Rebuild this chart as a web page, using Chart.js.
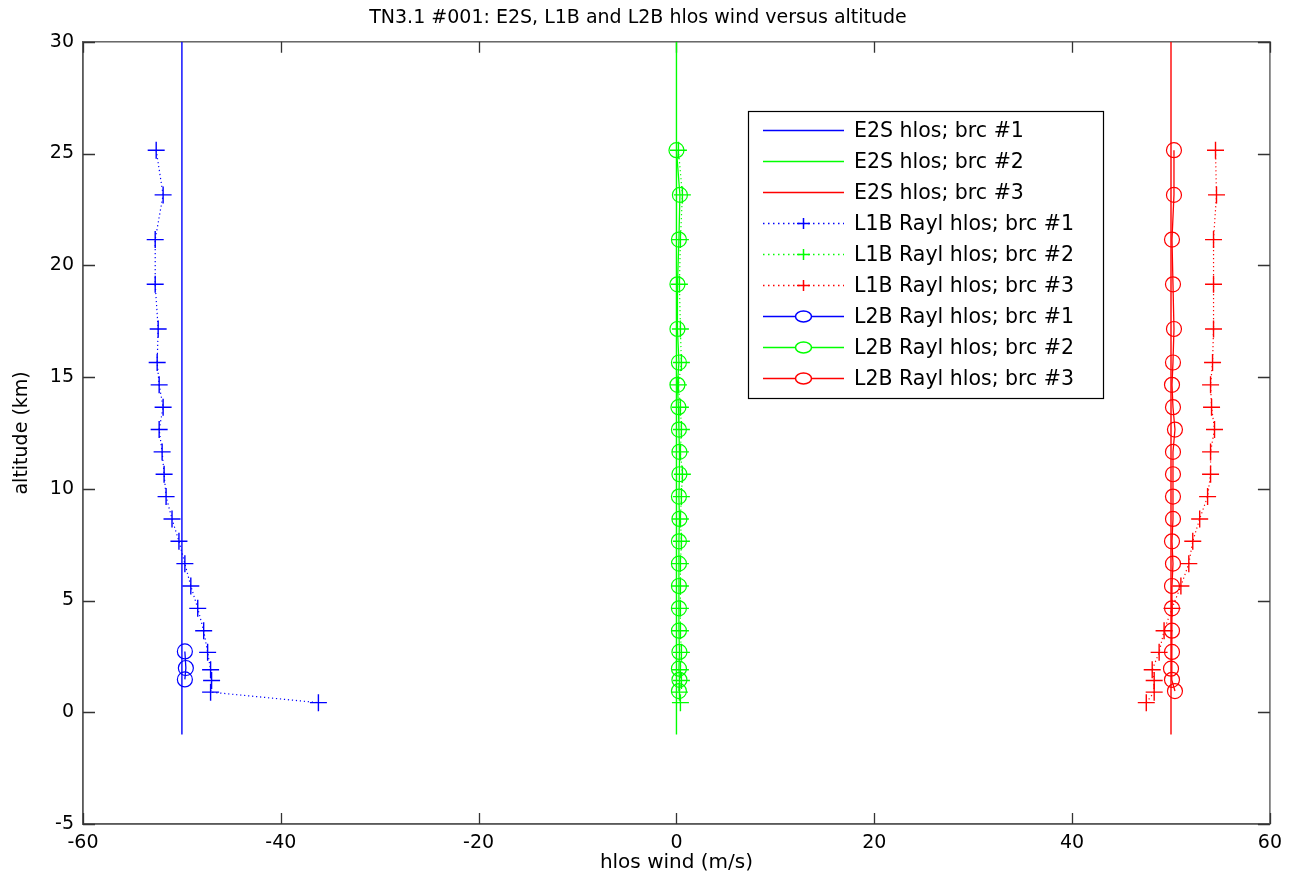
<!DOCTYPE html>
<html>
<head>
<meta charset="utf-8">
<title>TN3.1 #001 hlos wind versus altitude</title>
<script src="https://cdn.jsdelivr.net/npm/chart.js@4.4.1/dist/chart.umd.min.js"></script>
<style>
    html, body { margin: 0; padding: 0; background: #fff; }
    canvas { display: block; }
</style>
</head>
<body>
<canvas id="chart" width="1290" height="879" style="width:1290px;height:879px"></canvas>
<script>
// E2S reference profiles (constant wind over the whole column)
const e2sAltitude = [-1, 30];
const e2sWind1 = [-50, -50];
const e2sWind2 = [0, 0];
const e2sWind3 = [50, 50];

// L1B Rayleigh hlos, one value per range bin (km)
const l1bAltitude = [25.15, 23.15, 21.15, 19.15, 17.15, 15.65, 14.65, 13.65, 12.65, 11.65, 10.65, 9.65,
    8.65, 7.65, 6.65, 5.65, 4.65, 3.65, 2.68, 1.9, 1.42, 0.9, 0.43];
const l1bWind1 = [-52.6, -51.9, -52.7, -52.7, -52.4, -52.5, -52.3, -51.9, -52.3, -52.0, -51.8, -51.6,
    -51.0, -50.3, -49.7, -49.1, -48.4, -47.8, -47.4, -47.1, -47.0, -47.1, -36.2];
const l1bWind2 = [0.2, 0.6, 0.4, 0.3, 0.4, 0.5, 0.2, 0.4, 0.5, 0.4, 0.6, 0.5,
    0.4, 0.5, 0.4, 0.4, 0.4, 0.4, 0.5, 0.4, 0.5, 0.3, 0.4];
const l1bWind3 = [54.5, 54.6, 54.3, 54.3, 54.3, 54.2, 54.0, 54.1, 54.4, 54.0, 54.0, 53.7,
    52.9, 52.2, 51.8, 51.0, 50.1, 49.3, 48.8, 48.1, 48.3, 48.3, 47.5];

// L2B Rayleigh hlos
const l2bAltitude = [25.15, 23.15, 21.15, 19.15, 17.15, 15.65, 14.65, 13.65, 12.65, 11.65, 10.65, 9.65,
    8.65, 7.65, 6.65, 5.65, 4.65, 3.65, 2.7, 1.95, 1.45, 0.95];
const l2bAltitude1 = [2.72, 1.98, 1.47];
const l2bWind1 = [-49.7, -49.6, -49.7];
const l2bWind2 = [0.0, 0.35, 0.25, 0.1, 0.1, 0.25, 0.1, 0.2, 0.25, 0.3, 0.3, 0.25,
    0.3, 0.25, 0.25, 0.25, 0.25, 0.25, 0.3, 0.25, 0.3, 0.25];
const l2bWind3 = [50.3, 50.3, 50.1, 50.2, 50.3, 50.2, 50.1, 50.2, 50.4, 50.2, 50.2, 50.2,
    50.2, 50.1, 50.2, 50.1, 50.1, 50.1, 50.1, 50.0, 50.1, 50.4];

const xTicks = [-60, -40, -20, 0, 20, 40, 60];
const yTicks = [-5, 0, 5, 10, 15, 20, 25, 30];

const FONT = '"DejaVu Sans", "Liberation Sans", Arial, sans-serif';
const BLUE = '#0000ff', GREEN = '#00ff00', RED = '#ff0000';
const DOTS = [1.2, 2.8];

function toPoints(xs, ys) {
    return xs.map((x, i) => ({ x, y: ys[i] }));
}

function e2s(label, wind, color) {
    return {
        label, data: toPoints(wind, e2sAltitude),
        borderColor: color, borderWidth: 1.4, pointRadius: 0, showLine: true,
    };
}

function l1b(label, wind, color) {
    return {
        label, data: toPoints(wind, l1bAltitude),
        borderColor: color, borderWidth: 1.2, borderDash: DOTS, showLine: true,
        pointStyle: 'cross', pointRadius: 8.5, pointBorderColor: color, pointBorderWidth: 1.4,
    };
}

function l2b(label, wind, alt, color) {
    return {
        label, data: toPoints(wind, alt),
        borderColor: color, borderWidth: 1.3, showLine: true,
        pointStyle: 'circle', pointRadius: 7.5, pointBorderColor: color,
        pointBackgroundColor: 'rgba(0,0,0,0)', pointBorderWidth: 1.2,
    };
}

// box + inward tick marks on all four sides, drawn under the data
const framePlugin = {
    id: 'frame',
    beforeDatasetsDraw(chart) {
        const { ctx, chartArea: a, scales } = chart;
        ctx.save();
        ctx.strokeStyle = '#5a5a5a';
        ctx.lineWidth = 1.4;
        ctx.strokeRect(a.left, a.top, a.right - a.left, a.bottom - a.top);
        ctx.lineWidth = 1.3;
        ctx.strokeStyle = '#333';
        ctx.beginPath();
        xTicks.forEach(v => {
            const px = Math.round(scales.x.getPixelForValue(v)) + 0.5;
            ctx.moveTo(px, a.bottom); ctx.lineTo(px, a.bottom - 11);
            ctx.moveTo(px, a.top); ctx.lineTo(px, a.top + 11);
        });
        yTicks.forEach(v => {
            const py = Math.round(scales.y.getPixelForValue(v)) + 0.5;
            ctx.moveTo(a.left, py); ctx.lineTo(a.left + 12, py);
            ctx.moveTo(a.right, py); ctx.lineTo(a.right - 12, py);
        });
        ctx.stroke();
        ctx.restore();
    },
};

// matlab style legend box in the upper right
const boxLegend = {
    id: 'boxLegend',
    afterDraw(chart) {
        const ctx = chart.ctx;
        const x0 = 748, y0 = 111, w = 355, h = 287;
        const mx = 803.5;
        ctx.save();
        ctx.fillStyle = '#fff';
        ctx.fillRect(x0, y0, w, h);
        ctx.strokeStyle = '#000';
        ctx.lineWidth = 1.2;
        ctx.strokeRect(x0 + 0.5, y0 + 0.5, w, h);
        ctx.font = `20.5px ${FONT}`;
        ctx.textBaseline = 'middle';
        chart.data.datasets.forEach((ds, i) => {
            const y = Math.round(y0 + 18.5 + i * 31) + 0.5;
            const color = ds.borderColor;
            ctx.strokeStyle = color;
            ctx.lineWidth = 1.5;
            ctx.setLineDash(ds.borderDash ? [1.5, 3.5] : []);
            ctx.beginPath();
            ctx.moveTo(763, y);
            ctx.lineTo(844, y);
            ctx.stroke();
            ctx.setLineDash([]);
            if (ds.pointStyle === 'cross') {
                ctx.beginPath();
                ctx.moveTo(mx - 6.5, y); ctx.lineTo(mx + 6.5, y);
                ctx.moveTo(mx, y - 5.5); ctx.lineTo(mx, y + 5.5);
                ctx.stroke();
            } else if (ds.pointStyle === 'circle') {
                ctx.fillStyle = '#fff';
                ctx.beginPath();
                ctx.ellipse(mx, y, 8, 5.5, 0, 0, Math.PI * 2);
                ctx.fill();
                ctx.stroke();
            }
            ctx.fillStyle = '#000';
            ctx.fillText(ds.label, 854, y + 1);
        });
        ctx.restore();
    },
};

new Chart(document.getElementById('chart'), {
    type: 'scatter',
    data: {
        datasets: [
            e2s('E2S hlos; brc #1', e2sWind1, BLUE),
            e2s('E2S hlos; brc #2', e2sWind2, GREEN),
            e2s('E2S hlos; brc #3', e2sWind3, RED),
            l1b('L1B Rayl hlos; brc #1', l1bWind1, BLUE),
            l1b('L1B Rayl hlos; brc #2', l1bWind2, GREEN),
            l1b('L1B Rayl hlos; brc #3', l1bWind3, RED),
            l2b('L2B Rayl hlos; brc #1', l2bWind1, l2bAltitude1, BLUE),
            l2b('L2B Rayl hlos; brc #2', l2bWind2, l2bAltitude, GREEN),
            l2b('L2B Rayl hlos; brc #3', l2bWind3, l2bAltitude, RED),
        ],
    },
    options: {
        responsive: false,
        animation: false,
        events: [],
        layout: { padding: { left: 0, right: 14, top: 0, bottom: 0 } },
        plugins: {
            legend: { display: false },
            tooltip: { enabled: false },
            title: {
                display: true,
                text: 'TN3.1 #001: E2S, L1B and L2B hlos wind versus altitude',
                color: '#000',
                font: { family: FONT, size: 19, weight: 'normal' },
                padding: { top: 7, bottom: 12 },
            },
        },
        scales: {
            x: {
                type: 'linear', min: -60, max: 60,
                afterFit: s => { s.height = 55; },
                afterBuildTicks: s => { s.ticks = xTicks.map(v => ({ value: v })); },
                grid: { drawOnChartArea: false, drawTicks: false },
                border: { display: true, color: '#5a5a5a', width: 1.4 },
                ticks: { color: '#000', padding: 8, maxRotation: 0, autoSkip: false, font: { family: FONT, size: 19 } },
                title: { display: true, text: 'hlos wind (m/s)', color: '#000', font: { family: FONT, size: 20 }, padding: { top: 0, bottom: 4 } },
            },
            y: {
                type: 'linear', min: -5, max: 30,
                afterFit: s => { s.width = 83; },
                afterBuildTicks: s => { s.ticks = yTicks.map(v => ({ value: v })); },
                grid: { drawOnChartArea: false, drawTicks: false },
                border: { display: true, color: '#5a5a5a', width: 1.4 },
                ticks: { color: '#000', padding: 9, autoSkip: false, font: { family: FONT, size: 19 } },
                title: { display: true, text: 'altitude (km)', color: '#000', font: { family: FONT, size: 19 }, padding: { top: 11, bottom: 0 } },
            },
        },
    },
    plugins: [framePlugin, boxLegend],
});
</script>
</body>
</html>
